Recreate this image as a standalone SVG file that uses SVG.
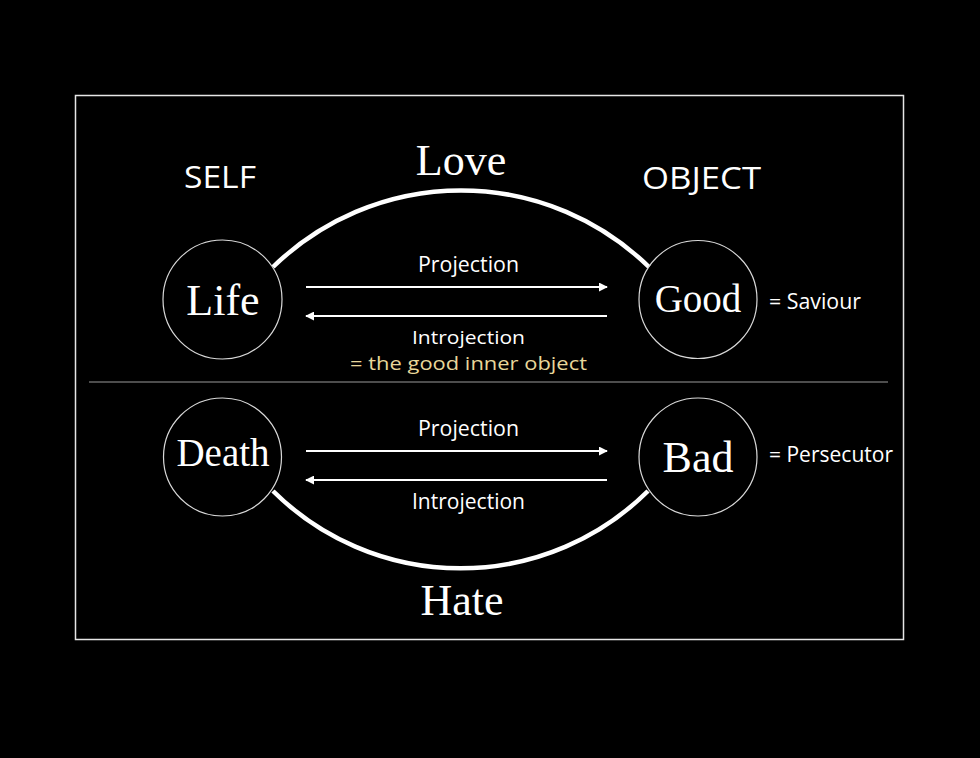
<svg xmlns="http://www.w3.org/2000/svg" width="980" height="758" viewBox="0 0 980 758">
<style>
.bg{fill:#000}
.frame{fill:none;stroke:#e6e6e6;stroke-width:1.5}
.div{stroke:#9a9a9a;stroke-width:1.2}
.node{fill:none;stroke:#d8d8d8;stroke-width:1.2}
.serif{font-family:"Liberation Serif","DejaVu Serif",serif;fill:#fff;text-anchor:middle;font-weight:300}
.sans{font-family:"Open Sans",Lato,"Liberation Sans",sans-serif;fill:#fff}
.arc{fill:none;stroke:#fff;stroke-width:4.5}
.arrow{stroke:#fff;stroke-width:2;fill:none}
.gold{fill:#e8d79a}
</style>
<defs>
<marker id="ah" viewBox="0 0 10 10" refX="9" refY="5" markerWidth="9" markerHeight="9" markerUnits="userSpaceOnUse" orient="auto">
<path d="M0,0 L10,5 L0,10 Z" fill="#fff"/>
</marker>
</defs>
<rect class="bg" x="0" y="0" width="980" height="758"/>
<rect class="frame" x="75.5" y="95.5" width="828" height="544"/>
<line class="div" x1="89" y1="382" x2="888" y2="382"/>

<text class="sans" x="184" y="188" font-size="31" textLength="72" lengthAdjust="spacingAndGlyphs">SELF</text>
<text class="sans" x="642" y="189" font-size="31" textLength="119" lengthAdjust="spacingAndGlyphs">OBJECT</text>

<g id="connectors">
<path class="arc" d="M273,267 A 269 269 0 0 1 649,267"/>
<path class="arc" d="M273,491 A 266 266 0 0 0 648,491"/>
<line class="arrow" x1="306" y1="287" x2="607" y2="287" marker-end="url(#ah)"/>
<line class="arrow" x1="607" y1="316" x2="306" y2="316" marker-end="url(#ah)"/>
<line class="arrow" x1="306" y1="451" x2="607" y2="451" marker-end="url(#ah)"/>
<line class="arrow" x1="607" y1="480" x2="306" y2="480" marker-end="url(#ah)"/>
</g>

<text class="serif" x="461" y="175" font-size="44">Love</text>
<text class="serif" x="462" y="615" font-size="44">Hate</text>

<text class="sans" x="418" y="272" font-size="21" textLength="101" lengthAdjust="spacingAndGlyphs">Projection</text>
<text class="sans" x="412" y="344" font-size="19" textLength="113" lengthAdjust="spacingAndGlyphs">Introjection</text>
<text class="sans gold" x="350" y="370" font-size="19" textLength="237" lengthAdjust="spacingAndGlyphs">= the good inner object</text>
<text class="sans" x="418" y="436" font-size="21" textLength="101" lengthAdjust="spacingAndGlyphs">Projection</text>
<text class="sans" x="412" y="509" font-size="21" textLength="113" lengthAdjust="spacingAndGlyphs">Introjection</text>

<g id="life">
<circle class="node" cx="222.5" cy="299.5" r="59.5"/>
<text class="serif" x="223" y="315" font-size="44">Life</text>
</g>
<g id="good">
<circle class="node" cx="698" cy="299.5" r="59"/>
<text class="serif" x="698" y="312" font-size="39">Good</text>
</g>
<g id="death">
<circle class="node" cx="222.5" cy="457" r="59"/>
<text class="serif" x="223" y="466" font-size="39">Death</text>
</g>
<g id="bad">
<circle class="node" cx="698" cy="457" r="59"/>
<text class="serif" x="698" y="472" font-size="44">Bad</text>
</g>

<text class="sans" x="769" y="309" font-size="21" textLength="92" lengthAdjust="spacingAndGlyphs">= Saviour</text>
<text class="sans" x="769" y="462" font-size="21" textLength="124" lengthAdjust="spacingAndGlyphs">= Persecutor</text>
</svg>
